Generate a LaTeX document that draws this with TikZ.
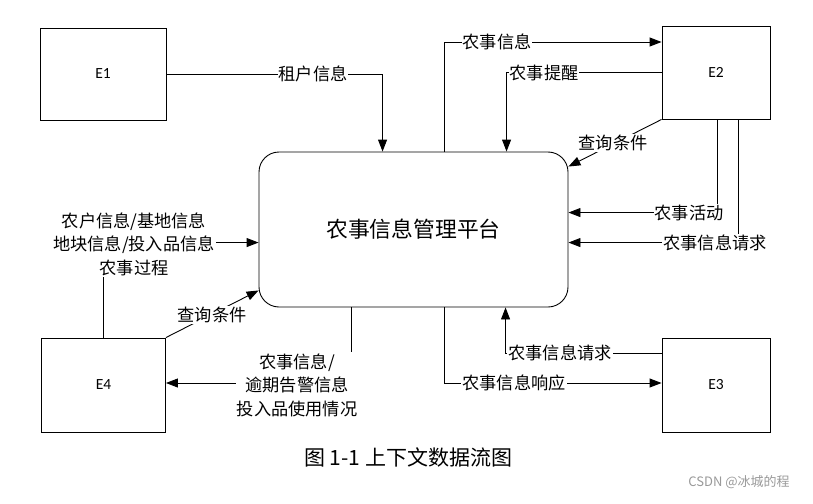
\documentclass[tikz,border=0pt]{standalone}
\usepackage{fontspec}
\setmainfont{Carlito}
\newfontfamily\cjk{Noto Sans CJK SC}
\usetikzlibrary{arrows.meta,calc}
\begin{document}
\begin{tikzpicture}[x=1pt,y=-1pt, line width=0.9pt,
  arr/.style={-{Triangle[length=12pt,width=9pt]}},
  ent/.style={draw, inner sep=0pt, font=\fontsize{15.5}{17}\selectfont},
  lab/.style={fill=white, inner sep=1pt, font=\cjk\fontsize{17.2}{23.5}\selectfont, align=center}]
\useasboundingbox (0,0) rectangle (813,503);
% entities
\node[ent, minimum width=126pt, minimum height=92pt] (E1) at (103,74) {E1};
\node[ent, minimum width=108pt, minimum height=93pt] (E2) at (716,72.5) {E2};
\node[ent, minimum width=108pt, minimum height=94pt] (E3) at (716,385) {E3};
\node[ent, minimum width=124pt, minimum height=94pt] (E4) at (103.5,385) {E4};
\node[draw, rounded corners=20pt, minimum width=309pt, minimum height=155pt,
      font=\cjk\fontsize{21.8}{24}\selectfont] (C) at (413.5,229.5) {农事信息管理平台};
% connectors
\draw[arr] (E1.east) -| ($(C.north west)+(124,0)$);
\draw[arr] ($(C.north west)+(186,0)$) |- ($(E2.west)+(0,-30.5)$);
\draw[arr] (E2.west) -| ($(C.north west)+(248,0)$);
\draw[arr] (E2.south west) -- ($(C.north east)+(0,15)$);
\draw[arr] ($(E2.south)+(1,0)$) |- ($(C.north east)+(0,61)$);
\draw[arr] ($(E2.south)+(22,0)$) |- ($(C.north east)+(0,91)$);
\draw[arr] (E4.north) |- ($(C.north west)+(0,91)$);
\draw[arr] (E4.north east) -- ($(C.south west)+(0,-17)$);
\draw[arr] ($(C.south west)+(93,0)$) |- ($(E4.east)+(0,-2)$);
\draw[arr] ($(C.south west)+(186,0)$) |- ($(E3.west)+(0,-2)$);
\draw[arr] ($(E3.west)+(0,-32)$) -| ($(C.south west)+(247,0)$);
% labels
\node[lab] (l1) at (313,74) {租户信息};
\node[lab] (l2) at (497,42) {农事信息};
\node[lab] (l3) at (544,73) {农事提醒};
\node[lab] (l4) at (613,143) {查询条件};
\node[lab] (l5) at (689,213) {农事活动};
\node[lab] (l6) at (715,243) {农事信息请求};
\node[lab] (l7) at (134,244) {农户信息/基地信息\\地块信息/投入品信息\\农事过程};
\node[lab] (l8) at (212,315) {查询条件};
\node[lab] (l9) at (297,385) {农事信息/\\逾期告警信息\\投入品使用情况};
\node[lab] (l10) at (514,383) {农事信息响应};
\node[lab] (l11) at (560,353) {农事信息请求};
% caption
\node[font=\cjk\fontsize{21}{24}\selectfont] (cap) at (408,457) {图 1-1 上下文数据流图};
\node[font=\cjk\fontsize{13}{15}\selectfont, text=black!40] (wm) at (739,482) {CSDN @冰城的程};
\end{tikzpicture}
\end{document}
